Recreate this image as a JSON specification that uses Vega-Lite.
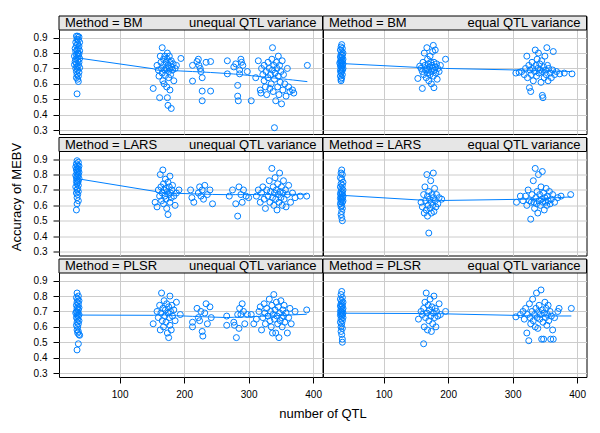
{
"$schema": "https://vega.github.io/schema/vega-lite/v6.json",
"autosize": {"type": "pad"},
"padding": {"left": 9, "top": 15, "right": 5, "bottom": 5},
"background": "white",
"spacing": 0.5,
"data": {"values": [
{"M":"BM","V":"unequal","q":33,"a":0.91},{"M":"BM","V":"unequal","q":35,"a":0.91},{"M":"BM","V":"unequal","q":37,"a":0.905},{"M":"BM","V":"unequal","q":34,"a":0.89},{"M":"BM","V":"unequal","q":36,"a":0.885},{"M":"BM","V":"unequal","q":32,"a":0.87},{"M":"BM","V":"unequal","q":38,"a":0.87},{"M":"BM","V":"unequal","q":35,"a":0.86},{"M":"BM","V":"unequal","q":33,"a":0.85},{"M":"BM","V":"unequal","q":37,"a":0.845},{"M":"BM","V":"unequal","q":31,"a":0.83},{"M":"BM","V":"unequal","q":36,"a":0.83},{"M":"BM","V":"unequal","q":34,"a":0.82},{"M":"BM","V":"unequal","q":38,"a":0.815},{"M":"BM","V":"unequal","q":32,"a":0.81},{"M":"BM","V":"unequal","q":35,"a":0.8},{"M":"BM","V":"unequal","q":37,"a":0.795},{"M":"BM","V":"unequal","q":33,"a":0.79},{"M":"BM","V":"unequal","q":30,"a":0.78},{"M":"BM","V":"unequal","q":36,"a":0.78},{"M":"BM","V":"unequal","q":34,"a":0.77},{"M":"BM","V":"unequal","q":38,"a":0.765},{"M":"BM","V":"unequal","q":32,"a":0.76},{"M":"BM","V":"unequal","q":35,"a":0.75},{"M":"BM","V":"unequal","q":31,"a":0.745},{"M":"BM","V":"unequal","q":37,"a":0.74},{"M":"BM","V":"unequal","q":33,"a":0.73},{"M":"BM","V":"unequal","q":30,"a":0.725},{"M":"BM","V":"unequal","q":36,"a":0.72},{"M":"BM","V":"unequal","q":34,"a":0.71},{"M":"BM","V":"unequal","q":38,"a":0.705},{"M":"BM","V":"unequal","q":32,"a":0.7},{"M":"BM","V":"unequal","q":35,"a":0.69},{"M":"BM","V":"unequal","q":33,"a":0.68},{"M":"BM","V":"unequal","q":37,"a":0.675},{"M":"BM","V":"unequal","q":34,"a":0.66},{"M":"BM","V":"unequal","q":36,"a":0.65},{"M":"BM","V":"unequal","q":33,"a":0.64},{"M":"BM","V":"unequal","q":35,"a":0.63},{"M":"BM","V":"unequal","q":36,"a":0.615},{"M":"BM","V":"unequal","q":34,"a":0.535},
{"M":"BM","V":"unequal","q":152,"a":0.57},{"M":"BM","V":"unequal","q":158,"a":0.72},{"M":"BM","V":"unequal","q":160,"a":0.69},{"M":"BM","V":"unequal","q":161,"a":0.65},{"M":"BM","V":"unequal","q":162,"a":0.51},{"M":"BM","V":"unequal","q":163,"a":0.78},{"M":"BM","V":"unequal","q":164,"a":0.74},{"M":"BM","V":"unequal","q":165,"a":0.7},{"M":"BM","V":"unequal","q":166,"a":0.835},{"M":"BM","V":"unequal","q":166,"a":0.67},{"M":"BM","V":"unequal","q":167,"a":0.62},{"M":"BM","V":"unequal","q":168,"a":0.76},{"M":"BM","V":"unequal","q":168,"a":0.72},{"M":"BM","V":"unequal","q":169,"a":0.6},{"M":"BM","V":"unequal","q":170,"a":0.78},{"M":"BM","V":"unequal","q":170,"a":0.69},{"M":"BM","V":"unequal","q":171,"a":0.655},{"M":"BM","V":"unequal","q":172,"a":0.74},{"M":"BM","V":"unequal","q":172,"a":0.7},{"M":"BM","V":"unequal","q":173,"a":0.58},{"M":"BM","V":"unequal","q":174,"a":0.8},{"M":"BM","V":"unequal","q":174,"a":0.76},{"M":"BM","V":"unequal","q":174,"a":0.51},{"M":"BM","V":"unequal","q":175,"a":0.46},{"M":"BM","V":"unequal","q":175,"a":0.72},{"M":"BM","V":"unequal","q":176,"a":0.68},{"M":"BM","V":"unequal","q":176,"a":0.64},{"M":"BM","V":"unequal","q":177,"a":0.78},{"M":"BM","V":"unequal","q":177,"a":0.7},{"M":"BM","V":"unequal","q":178,"a":0.74},{"M":"BM","V":"unequal","q":178,"a":0.56},{"M":"BM","V":"unequal","q":179,"a":0.66},{"M":"BM","V":"unequal","q":180,"a":0.44},{"M":"BM","V":"unequal","q":180,"a":0.75},{"M":"BM","V":"unequal","q":181,"a":0.71},{"M":"BM","V":"unequal","q":182,"a":0.69},{"M":"BM","V":"unequal","q":183,"a":0.73},{"M":"BM","V":"unequal","q":184,"a":0.62},{"M":"BM","V":"unequal","q":186,"a":0.7},{"M":"BM","V":"unequal","q":188,"a":0.72},{"M":"BM","V":"unequal","q":195,"a":0.765},
{"M":"BM","V":"unequal","q":213,"a":0.72},{"M":"BM","V":"unequal","q":213,"a":0.618},{"M":"BM","V":"unequal","q":220,"a":0.745},{"M":"BM","V":"unequal","q":222,"a":0.76},{"M":"BM","V":"unequal","q":223,"a":0.72},{"M":"BM","V":"unequal","q":225,"a":0.7},{"M":"BM","V":"unequal","q":226,"a":0.68},{"M":"BM","V":"unequal","q":228,"a":0.64},{"M":"BM","V":"unequal","q":228,"a":0.553},{"M":"BM","V":"unequal","q":228,"a":0.49},{"M":"BM","V":"unequal","q":234,"a":0.74},{"M":"BM","V":"unequal","q":241,"a":0.745},{"M":"BM","V":"unequal","q":241,"a":0.553},
{"M":"BM","V":"unequal","q":267,"a":0.75},{"M":"BM","V":"unequal","q":267,"a":0.665},{"M":"BM","V":"unequal","q":277,"a":0.71},{"M":"BM","V":"unequal","q":280,"a":0.73},{"M":"BM","V":"unequal","q":283,"a":0.59},{"M":"BM","V":"unequal","q":283,"a":0.52},{"M":"BM","V":"unequal","q":284,"a":0.49},{"M":"BM","V":"unequal","q":286,"a":0.69},{"M":"BM","V":"unequal","q":286,"a":0.665},{"M":"BM","V":"unequal","q":288,"a":0.76},{"M":"BM","V":"unequal","q":289,"a":0.74},{"M":"BM","V":"unequal","q":291,"a":0.72},{"M":"BM","V":"unequal","q":298,"a":0.68},{"M":"BM","V":"unequal","q":304,"a":0.49},{"M":"BM","V":"unequal","q":311,"a":0.64},
{"M":"BM","V":"unequal","q":315,"a":0.75},{"M":"BM","V":"unequal","q":318,"a":0.56},{"M":"BM","V":"unequal","q":319,"a":0.54},{"M":"BM","V":"unequal","q":320,"a":0.7},{"M":"BM","V":"unequal","q":322,"a":0.66},{"M":"BM","V":"unequal","q":324,"a":0.72},{"M":"BM","V":"unequal","q":324,"a":0.62},{"M":"BM","V":"unequal","q":326,"a":0.58},{"M":"BM","V":"unequal","q":327,"a":0.68},{"M":"BM","V":"unequal","q":328,"a":0.53},{"M":"BM","V":"unequal","q":330,"a":0.74},{"M":"BM","V":"unequal","q":330,"a":0.64},{"M":"BM","V":"unequal","q":332,"a":0.7},{"M":"BM","V":"unequal","q":333,"a":0.57},{"M":"BM","V":"unequal","q":334,"a":0.66},{"M":"BM","V":"unequal","q":335,"a":0.6},{"M":"BM","V":"unequal","q":336,"a":0.76},{"M":"BM","V":"unequal","q":337,"a":0.835},{"M":"BM","V":"unequal","q":337,"a":0.69},{"M":"BM","V":"unequal","q":338,"a":0.55},{"M":"BM","V":"unequal","q":339,"a":0.72},{"M":"BM","V":"unequal","q":340,"a":0.315},{"M":"BM","V":"unequal","q":340,"a":0.63},{"M":"BM","V":"unequal","q":341,"a":0.67},{"M":"BM","V":"unequal","q":342,"a":0.49},{"M":"BM","V":"unequal","q":343,"a":0.74},{"M":"BM","V":"unequal","q":344,"a":0.7},{"M":"BM","V":"unequal","q":345,"a":0.58},{"M":"BM","V":"unequal","q":346,"a":0.78},{"M":"BM","V":"unequal","q":346,"a":0.65},{"M":"BM","V":"unequal","q":347,"a":0.53},{"M":"BM","V":"unequal","q":348,"a":0.72},{"M":"BM","V":"unequal","q":349,"a":0.61},{"M":"BM","V":"unequal","q":350,"a":0.68},{"M":"BM","V":"unequal","q":351,"a":0.47},{"M":"BM","V":"unequal","q":352,"a":0.75},{"M":"BM","V":"unequal","q":353,"a":0.56},{"M":"BM","V":"unequal","q":354,"a":0.66},{"M":"BM","V":"unequal","q":356,"a":0.6},{"M":"BM","V":"unequal","q":358,"a":0.52},{"M":"BM","V":"unequal","q":360,"a":0.7},{"M":"BM","V":"unequal","q":362,"a":0.58},{"M":"BM","V":"unequal","q":364,"a":0.55},{"M":"BM","V":"unequal","q":368,"a":0.56},{"M":"BM","V":"unequal","q":370,"a":0.54},{"M":"BM","V":"unequal","q":391,"a":0.72},
{"M":"BM","V":"equal","q":35,"a":0.855},{"M":"BM","V":"equal","q":34,"a":0.84},{"M":"BM","V":"equal","q":36,"a":0.83},{"M":"BM","V":"equal","q":33,"a":0.82},{"M":"BM","V":"equal","q":35,"a":0.81},{"M":"BM","V":"equal","q":37,"a":0.8},{"M":"BM","V":"equal","q":34,"a":0.79},{"M":"BM","V":"equal","q":36,"a":0.785},{"M":"BM","V":"equal","q":33,"a":0.775},{"M":"BM","V":"equal","q":35,"a":0.77},{"M":"BM","V":"equal","q":37,"a":0.76},{"M":"BM","V":"equal","q":34,"a":0.755},{"M":"BM","V":"equal","q":36,"a":0.75},{"M":"BM","V":"equal","q":33,"a":0.745},{"M":"BM","V":"equal","q":35,"a":0.74},{"M":"BM","V":"equal","q":32,"a":0.735},{"M":"BM","V":"equal","q":37,"a":0.73},{"M":"BM","V":"equal","q":34,"a":0.725},{"M":"BM","V":"equal","q":36,"a":0.72},{"M":"BM","V":"equal","q":33,"a":0.715},{"M":"BM","V":"equal","q":35,"a":0.71},{"M":"BM","V":"equal","q":37,"a":0.7},{"M":"BM","V":"equal","q":34,"a":0.695},{"M":"BM","V":"equal","q":36,"a":0.69},{"M":"BM","V":"equal","q":33,"a":0.685},{"M":"BM","V":"equal","q":35,"a":0.68},{"M":"BM","V":"equal","q":34,"a":0.67},{"M":"BM","V":"equal","q":36,"a":0.66},{"M":"BM","V":"equal","q":33,"a":0.65},{"M":"BM","V":"equal","q":35,"a":0.64},{"M":"BM","V":"equal","q":34,"a":0.63},{"M":"BM","V":"equal","q":34,"a":0.62},
{"M":"BM","V":"equal","q":153,"a":0.635},{"M":"BM","V":"equal","q":156,"a":0.715},{"M":"BM","V":"equal","q":158,"a":0.7},{"M":"BM","V":"equal","q":160,"a":0.57},{"M":"BM","V":"equal","q":160,"a":0.68},{"M":"BM","V":"equal","q":161,"a":0.74},{"M":"BM","V":"equal","q":162,"a":0.66},{"M":"BM","V":"equal","q":163,"a":0.8},{"M":"BM","V":"equal","q":164,"a":0.72},{"M":"BM","V":"equal","q":165,"a":0.69},{"M":"BM","V":"equal","q":166,"a":0.64},{"M":"BM","V":"equal","q":167,"a":0.835},{"M":"BM","V":"equal","q":167,"a":0.7},{"M":"BM","V":"equal","q":168,"a":0.76},{"M":"BM","V":"equal","q":168,"a":0.67},{"M":"BM","V":"equal","q":169,"a":0.73},{"M":"BM","V":"equal","q":170,"a":0.62},{"M":"BM","V":"equal","q":170,"a":0.69},{"M":"BM","V":"equal","q":171,"a":0.71},{"M":"BM","V":"equal","q":172,"a":0.78},{"M":"BM","V":"equal","q":172,"a":0.66},{"M":"BM","V":"equal","q":173,"a":0.74},{"M":"BM","V":"equal","q":174,"a":0.68},{"M":"BM","V":"equal","q":174,"a":0.6},{"M":"BM","V":"equal","q":175,"a":0.72},{"M":"BM","V":"equal","q":176,"a":0.81},{"M":"BM","V":"equal","q":176,"a":0.7},{"M":"BM","V":"equal","q":177,"a":0.85},{"M":"BM","V":"equal","q":177,"a":0.65},{"M":"BM","V":"equal","q":178,"a":0.575},{"M":"BM","V":"equal","q":178,"a":0.74},{"M":"BM","V":"equal","q":179,"a":0.69},{"M":"BM","V":"equal","q":180,"a":0.82},{"M":"BM","V":"equal","q":180,"a":0.71},{"M":"BM","V":"equal","q":181,"a":0.67},{"M":"BM","V":"equal","q":182,"a":0.73},{"M":"BM","V":"equal","q":183,"a":0.63},{"M":"BM","V":"equal","q":184,"a":0.7},{"M":"BM","V":"equal","q":186,"a":0.68},{"M":"BM","V":"equal","q":188,"a":0.72},{"M":"BM","V":"equal","q":196,"a":0.76},
{"M":"BM","V":"equal","q":305,"a":0.67},{"M":"BM","V":"equal","q":310,"a":0.675},{"M":"BM","V":"equal","q":314,"a":0.68},{"M":"BM","V":"equal","q":318,"a":0.66},{"M":"BM","V":"equal","q":320,"a":0.7},{"M":"BM","V":"equal","q":322,"a":0.78},{"M":"BM","V":"equal","q":323,"a":0.64},{"M":"BM","V":"equal","q":325,"a":0.72},{"M":"BM","V":"equal","q":326,"a":0.575},{"M":"BM","V":"equal","q":327,"a":0.69},{"M":"BM","V":"equal","q":328,"a":0.55},{"M":"BM","V":"equal","q":329,"a":0.66},{"M":"BM","V":"equal","q":330,"a":0.74},{"M":"BM","V":"equal","q":331,"a":0.7},{"M":"BM","V":"equal","q":332,"a":0.62},{"M":"BM","V":"equal","q":334,"a":0.68},{"M":"BM","V":"equal","q":335,"a":0.82},{"M":"BM","V":"equal","q":336,"a":0.72},{"M":"BM","V":"equal","q":337,"a":0.65},{"M":"BM","V":"equal","q":338,"a":0.76},{"M":"BM","V":"equal","q":339,"a":0.7},{"M":"BM","V":"equal","q":340,"a":0.8},{"M":"BM","V":"equal","q":341,"a":0.67},{"M":"BM","V":"equal","q":342,"a":0.73},{"M":"BM","V":"equal","q":343,"a":0.69},{"M":"BM","V":"equal","q":344,"a":0.61},{"M":"BM","V":"equal","q":345,"a":0.75},{"M":"BM","V":"equal","q":346,"a":0.525},{"M":"BM","V":"equal","q":346,"a":0.68},{"M":"BM","V":"equal","q":347,"a":0.51},{"M":"BM","V":"equal","q":348,"a":0.71},{"M":"BM","V":"equal","q":349,"a":0.64},{"M":"BM","V":"equal","q":350,"a":0.78},{"M":"BM","V":"equal","q":351,"a":0.69},{"M":"BM","V":"equal","q":352,"a":0.66},{"M":"BM","V":"equal","q":353,"a":0.835},{"M":"BM","V":"equal","q":354,"a":0.72},{"M":"BM","V":"equal","q":355,"a":0.62},{"M":"BM","V":"equal","q":356,"a":0.7},{"M":"BM","V":"equal","q":358,"a":0.67},{"M":"BM","V":"equal","q":360,"a":0.64},{"M":"BM","V":"equal","q":362,"a":0.69},{"M":"BM","V":"equal","q":363,"a":0.81},{"M":"BM","V":"equal","q":365,"a":0.66},{"M":"BM","V":"equal","q":368,"a":0.68},{"M":"BM","V":"equal","q":373,"a":0.665},{"M":"BM","V":"equal","q":380,"a":0.67},{"M":"BM","V":"equal","q":392,"a":0.665},
{"M":"LARS","V":"unequal","q":34,"a":0.89},{"M":"LARS","V":"unequal","q":36,"a":0.88},{"M":"LARS","V":"unequal","q":33,"a":0.87},{"M":"LARS","V":"unequal","q":35,"a":0.86},{"M":"LARS","V":"unequal","q":37,"a":0.855},{"M":"LARS","V":"unequal","q":32,"a":0.85},{"M":"LARS","V":"unequal","q":34,"a":0.84},{"M":"LARS","V":"unequal","q":36,"a":0.835},{"M":"LARS","V":"unequal","q":33,"a":0.83},{"M":"LARS","V":"unequal","q":35,"a":0.82},{"M":"LARS","V":"unequal","q":37,"a":0.815},{"M":"LARS","V":"unequal","q":34,"a":0.81},{"M":"LARS","V":"unequal","q":36,"a":0.8},{"M":"LARS","V":"unequal","q":32,"a":0.795},{"M":"LARS","V":"unequal","q":35,"a":0.79},{"M":"LARS","V":"unequal","q":33,"a":0.78},{"M":"LARS","V":"unequal","q":37,"a":0.775},{"M":"LARS","V":"unequal","q":34,"a":0.77},{"M":"LARS","V":"unequal","q":36,"a":0.76},{"M":"LARS","V":"unequal","q":33,"a":0.755},{"M":"LARS","V":"unequal","q":35,"a":0.75},{"M":"LARS","V":"unequal","q":34,"a":0.74},{"M":"LARS","V":"unequal","q":36,"a":0.73},{"M":"LARS","V":"unequal","q":32,"a":0.72},{"M":"LARS","V":"unequal","q":35,"a":0.71},{"M":"LARS","V":"unequal","q":34,"a":0.7},{"M":"LARS","V":"unequal","q":36,"a":0.69},{"M":"LARS","V":"unequal","q":33,"a":0.68},{"M":"LARS","V":"unequal","q":35,"a":0.67},{"M":"LARS","V":"unequal","q":34,"a":0.65},{"M":"LARS","V":"unequal","q":36,"a":0.63},{"M":"LARS","V":"unequal","q":34,"a":0.61},{"M":"LARS","V":"unequal","q":33,"a":0.57},
{"M":"LARS","V":"unequal","q":155,"a":0.62},{"M":"LARS","V":"unequal","q":158,"a":0.59},{"M":"LARS","V":"unequal","q":160,"a":0.7},{"M":"LARS","V":"unequal","q":162,"a":0.66},{"M":"LARS","V":"unequal","q":163,"a":0.8},{"M":"LARS","V":"unequal","q":164,"a":0.72},{"M":"LARS","V":"unequal","q":165,"a":0.63},{"M":"LARS","V":"unequal","q":166,"a":0.68},{"M":"LARS","V":"unequal","q":167,"a":0.83},{"M":"LARS","V":"unequal","q":168,"a":0.74},{"M":"LARS","V":"unequal","q":168,"a":0.61},{"M":"LARS","V":"unequal","q":169,"a":0.7},{"M":"LARS","V":"unequal","q":170,"a":0.66},{"M":"LARS","V":"unequal","q":171,"a":0.77},{"M":"LARS","V":"unequal","q":172,"a":0.64},{"M":"LARS","V":"unequal","q":172,"a":0.71},{"M":"LARS","V":"unequal","q":173,"a":0.58},{"M":"LARS","V":"unequal","q":174,"a":0.69},{"M":"LARS","V":"unequal","q":175,"a":0.75},{"M":"LARS","V":"unequal","q":175,"a":0.54},{"M":"LARS","V":"unequal","q":176,"a":0.67},{"M":"LARS","V":"unequal","q":177,"a":0.72},{"M":"LARS","V":"unequal","q":178,"a":0.62},{"M":"LARS","V":"unequal","q":178,"a":0.79},{"M":"LARS","V":"unequal","q":179,"a":0.68},{"M":"LARS","V":"unequal","q":180,"a":0.65},{"M":"LARS","V":"unequal","q":181,"a":0.7},{"M":"LARS","V":"unequal","q":182,"a":0.73},{"M":"LARS","V":"unequal","q":184,"a":0.66},{"M":"LARS","V":"unequal","q":186,"a":0.6},{"M":"LARS","V":"unequal","q":188,"a":0.68},{"M":"LARS","V":"unequal","q":192,"a":0.7},
{"M":"LARS","V":"unequal","q":210,"a":0.7},{"M":"LARS","V":"unequal","q":212,"a":0.65},{"M":"LARS","V":"unequal","q":215,"a":0.62},{"M":"LARS","V":"unequal","q":222,"a":0.68},{"M":"LARS","V":"unequal","q":224,"a":0.72},{"M":"LARS","V":"unequal","q":226,"a":0.66},{"M":"LARS","V":"unequal","q":228,"a":0.7},{"M":"LARS","V":"unequal","q":230,"a":0.64},{"M":"LARS","V":"unequal","q":232,"a":0.73},{"M":"LARS","V":"unequal","q":236,"a":0.67},{"M":"LARS","V":"unequal","q":240,"a":0.7},{"M":"LARS","V":"unequal","q":244,"a":0.61},
{"M":"LARS","V":"unequal","q":270,"a":0.66},{"M":"LARS","V":"unequal","q":275,"a":0.7},{"M":"LARS","V":"unequal","q":280,"a":0.61},{"M":"LARS","V":"unequal","q":283,"a":0.53},{"M":"LARS","V":"unequal","q":285,"a":0.72},{"M":"LARS","V":"unequal","q":288,"a":0.67},{"M":"LARS","V":"unequal","q":290,"a":0.62},{"M":"LARS","V":"unequal","q":292,"a":0.7},{"M":"LARS","V":"unequal","q":296,"a":0.66},{"M":"LARS","V":"unequal","q":300,"a":0.65},
{"M":"LARS","V":"unequal","q":312,"a":0.66},{"M":"LARS","V":"unequal","q":315,"a":0.7},{"M":"LARS","V":"unequal","q":318,"a":0.62},{"M":"LARS","V":"unequal","q":320,"a":0.68},{"M":"LARS","V":"unequal","q":322,"a":0.72},{"M":"LARS","V":"unequal","q":324,"a":0.64},{"M":"LARS","V":"unequal","q":326,"a":0.58},{"M":"LARS","V":"unequal","q":328,"a":0.7},{"M":"LARS","V":"unequal","q":330,"a":0.66},{"M":"LARS","V":"unequal","q":332,"a":0.76},{"M":"LARS","V":"unequal","q":333,"a":0.62},{"M":"LARS","V":"unequal","q":334,"a":0.69},{"M":"LARS","V":"unequal","q":336,"a":0.84},{"M":"LARS","V":"unequal","q":337,"a":0.65},{"M":"LARS","V":"unequal","q":338,"a":0.72},{"M":"LARS","V":"unequal","q":339,"a":0.6},{"M":"LARS","V":"unequal","q":340,"a":0.68},{"M":"LARS","V":"unequal","q":341,"a":0.78},{"M":"LARS","V":"unequal","q":342,"a":0.64},{"M":"LARS","V":"unequal","q":343,"a":0.7},{"M":"LARS","V":"unequal","q":344,"a":0.57},{"M":"LARS","V":"unequal","q":345,"a":0.74},{"M":"LARS","V":"unequal","q":346,"a":0.67},{"M":"LARS","V":"unequal","q":347,"a":0.62},{"M":"LARS","V":"unequal","q":348,"a":0.81},{"M":"LARS","V":"unequal","q":349,"a":0.69},{"M":"LARS","V":"unequal","q":350,"a":0.65},{"M":"LARS","V":"unequal","q":351,"a":0.72},{"M":"LARS","V":"unequal","q":352,"a":0.6},{"M":"LARS","V":"unequal","q":353,"a":0.68},{"M":"LARS","V":"unequal","q":354,"a":0.76},{"M":"LARS","V":"unequal","q":355,"a":0.64},{"M":"LARS","V":"unequal","q":357,"a":0.7},{"M":"LARS","V":"unequal","q":358,"a":0.59},{"M":"LARS","V":"unequal","q":360,"a":0.67},{"M":"LARS","V":"unequal","q":362,"a":0.73},{"M":"LARS","V":"unequal","q":365,"a":0.62},{"M":"LARS","V":"unequal","q":368,"a":0.68},{"M":"LARS","V":"unequal","q":372,"a":0.65},{"M":"LARS","V":"unequal","q":380,"a":0.66},{"M":"LARS","V":"unequal","q":390,"a":0.66},
{"M":"LARS","V":"equal","q":35,"a":0.83},{"M":"LARS","V":"equal","q":34,"a":0.81},{"M":"LARS","V":"equal","q":36,"a":0.8},{"M":"LARS","V":"equal","q":33,"a":0.78},{"M":"LARS","V":"equal","q":35,"a":0.77},{"M":"LARS","V":"equal","q":37,"a":0.75},{"M":"LARS","V":"equal","q":34,"a":0.74},{"M":"LARS","V":"equal","q":36,"a":0.73},{"M":"LARS","V":"equal","q":33,"a":0.72},{"M":"LARS","V":"equal","q":35,"a":0.71},{"M":"LARS","V":"equal","q":37,"a":0.7},{"M":"LARS","V":"equal","q":34,"a":0.69},{"M":"LARS","V":"equal","q":36,"a":0.68},{"M":"LARS","V":"equal","q":33,"a":0.675},{"M":"LARS","V":"equal","q":35,"a":0.67},{"M":"LARS","V":"equal","q":37,"a":0.66},{"M":"LARS","V":"equal","q":34,"a":0.655},{"M":"LARS","V":"equal","q":36,"a":0.65},{"M":"LARS","V":"equal","q":33,"a":0.645},{"M":"LARS","V":"equal","q":35,"a":0.64},{"M":"LARS","V":"equal","q":37,"a":0.63},{"M":"LARS","V":"equal","q":34,"a":0.625},{"M":"LARS","V":"equal","q":36,"a":0.62},{"M":"LARS","V":"equal","q":33,"a":0.61},{"M":"LARS","V":"equal","q":35,"a":0.6},{"M":"LARS","V":"equal","q":34,"a":0.59},{"M":"LARS","V":"equal","q":36,"a":0.58},{"M":"LARS","V":"equal","q":35,"a":0.56},{"M":"LARS","V":"equal","q":34,"a":0.54},{"M":"LARS","V":"equal","q":35,"a":0.52},{"M":"LARS","V":"equal","q":36,"a":0.5},
{"M":"LARS","V":"equal","q":158,"a":0.62},{"M":"LARS","V":"equal","q":160,"a":0.59},{"M":"LARS","V":"equal","q":162,"a":0.67},{"M":"LARS","V":"equal","q":163,"a":0.55},{"M":"LARS","V":"equal","q":164,"a":0.72},{"M":"LARS","V":"equal","q":165,"a":0.63},{"M":"LARS","V":"equal","q":166,"a":0.57},{"M":"LARS","V":"equal","q":167,"a":0.8},{"M":"LARS","V":"equal","q":168,"a":0.66},{"M":"LARS","V":"equal","q":168,"a":0.53},{"M":"LARS","V":"equal","q":169,"a":0.6},{"M":"LARS","V":"equal","q":170,"a":0.69},{"M":"LARS","V":"equal","q":170,"a":0.42},{"M":"LARS","V":"equal","q":171,"a":0.64},{"M":"LARS","V":"equal","q":172,"a":0.58},{"M":"LARS","V":"equal","q":173,"a":0.76},{"M":"LARS","V":"equal","q":174,"a":0.62},{"M":"LARS","V":"equal","q":174,"a":0.55},{"M":"LARS","V":"equal","q":175,"a":0.67},{"M":"LARS","V":"equal","q":176,"a":0.6},{"M":"LARS","V":"equal","q":177,"a":0.81},{"M":"LARS","V":"equal","q":177,"a":0.65},{"M":"LARS","V":"equal","q":178,"a":0.56},{"M":"LARS","V":"equal","q":179,"a":0.71},{"M":"LARS","V":"equal","q":180,"a":0.63},{"M":"LARS","V":"equal","q":181,"a":0.59},{"M":"LARS","V":"equal","q":182,"a":0.67},{"M":"LARS","V":"equal","q":184,"a":0.61},{"M":"LARS","V":"equal","q":186,"a":0.65},{"M":"LARS","V":"equal","q":190,"a":0.64},
{"M":"LARS","V":"equal","q":306,"a":0.62},{"M":"LARS","V":"equal","q":312,"a":0.66},{"M":"LARS","V":"equal","q":316,"a":0.63},{"M":"LARS","V":"equal","q":320,"a":0.66},{"M":"LARS","V":"equal","q":322,"a":0.6},{"M":"LARS","V":"equal","q":324,"a":0.7},{"M":"LARS","V":"equal","q":326,"a":0.63},{"M":"LARS","V":"equal","q":328,"a":0.51},{"M":"LARS","V":"equal","q":329,"a":0.62},{"M":"LARS","V":"equal","q":330,"a":0.67},{"M":"LARS","V":"equal","q":332,"a":0.76},{"M":"LARS","V":"equal","q":333,"a":0.62},{"M":"LARS","V":"equal","q":334,"a":0.58},{"M":"LARS","V":"equal","q":335,"a":0.84},{"M":"LARS","V":"equal","q":336,"a":0.65},{"M":"LARS","V":"equal","q":337,"a":0.61},{"M":"LARS","V":"equal","q":338,"a":0.69},{"M":"LARS","V":"equal","q":339,"a":0.55},{"M":"LARS","V":"equal","q":340,"a":0.8},{"M":"LARS","V":"equal","q":341,"a":0.63},{"M":"LARS","V":"equal","q":342,"a":0.67},{"M":"LARS","V":"equal","q":343,"a":0.6},{"M":"LARS","V":"equal","q":344,"a":0.72},{"M":"LARS","V":"equal","q":345,"a":0.64},{"M":"LARS","V":"equal","q":346,"a":0.82},{"M":"LARS","V":"equal","q":347,"a":0.62},{"M":"LARS","V":"equal","q":348,"a":0.68},{"M":"LARS","V":"equal","q":349,"a":0.57},{"M":"LARS","V":"equal","q":350,"a":0.65},{"M":"LARS","V":"equal","q":351,"a":0.62},{"M":"LARS","V":"equal","q":352,"a":0.71},{"M":"LARS","V":"equal","q":353,"a":0.6},{"M":"LARS","V":"equal","q":354,"a":0.66},{"M":"LARS","V":"equal","q":355,"a":0.63},{"M":"LARS","V":"equal","q":357,"a":0.69},{"M":"LARS","V":"equal","q":358,"a":0.61},{"M":"LARS","V":"equal","q":360,"a":0.64},{"M":"LARS","V":"equal","q":362,"a":0.67},{"M":"LARS","V":"equal","q":365,"a":0.62},{"M":"LARS","V":"equal","q":370,"a":0.65},{"M":"LARS","V":"equal","q":375,"a":0.66},{"M":"LARS","V":"equal","q":390,"a":0.67},
{"M":"PLSR","V":"unequal","q":34,"a":0.82},{"M":"PLSR","V":"unequal","q":36,"a":0.8},{"M":"PLSR","V":"unequal","q":33,"a":0.79},{"M":"PLSR","V":"unequal","q":35,"a":0.78},{"M":"PLSR","V":"unequal","q":37,"a":0.77},{"M":"PLSR","V":"unequal","q":34,"a":0.76},{"M":"PLSR","V":"unequal","q":36,"a":0.75},{"M":"PLSR","V":"unequal","q":33,"a":0.74},{"M":"PLSR","V":"unequal","q":35,"a":0.73},{"M":"PLSR","V":"unequal","q":37,"a":0.725},{"M":"PLSR","V":"unequal","q":34,"a":0.72},{"M":"PLSR","V":"unequal","q":36,"a":0.71},{"M":"PLSR","V":"unequal","q":33,"a":0.7},{"M":"PLSR","V":"unequal","q":35,"a":0.695},{"M":"PLSR","V":"unequal","q":32,"a":0.69},{"M":"PLSR","V":"unequal","q":37,"a":0.68},{"M":"PLSR","V":"unequal","q":34,"a":0.675},{"M":"PLSR","V":"unequal","q":36,"a":0.67},{"M":"PLSR","V":"unequal","q":33,"a":0.66},{"M":"PLSR","V":"unequal","q":35,"a":0.65},{"M":"PLSR","V":"unequal","q":37,"a":0.64},{"M":"PLSR","V":"unequal","q":34,"a":0.63},{"M":"PLSR","V":"unequal","q":36,"a":0.62},{"M":"PLSR","V":"unequal","q":33,"a":0.61},{"M":"PLSR","V":"unequal","q":35,"a":0.6},{"M":"PLSR","V":"unequal","q":34,"a":0.58},{"M":"PLSR","V":"unequal","q":36,"a":0.57},{"M":"PLSR","V":"unequal","q":35,"a":0.56},{"M":"PLSR","V":"unequal","q":37,"a":0.55},{"M":"PLSR","V":"unequal","q":38,"a":0.545},{"M":"PLSR","V":"unequal","q":36,"a":0.49},{"M":"PLSR","V":"unequal","q":34,"a":0.45},
{"M":"PLSR","V":"unequal","q":152,"a":0.62},{"M":"PLSR","V":"unequal","q":158,"a":0.7},{"M":"PLSR","V":"unequal","q":160,"a":0.66},{"M":"PLSR","V":"unequal","q":162,"a":0.74},{"M":"PLSR","V":"unequal","q":163,"a":0.58},{"M":"PLSR","V":"unequal","q":164,"a":0.69},{"M":"PLSR","V":"unequal","q":165,"a":0.82},{"M":"PLSR","V":"unequal","q":166,"a":0.64},{"M":"PLSR","V":"unequal","q":167,"a":0.72},{"M":"PLSR","V":"unequal","q":168,"a":0.6},{"M":"PLSR","V":"unequal","q":169,"a":0.77},{"M":"PLSR","V":"unequal","q":170,"a":0.67},{"M":"PLSR","V":"unequal","q":171,"a":0.71},{"M":"PLSR","V":"unequal","q":172,"a":0.63},{"M":"PLSR","V":"unequal","q":173,"a":0.75},{"M":"PLSR","V":"unequal","q":174,"a":0.56},{"M":"PLSR","V":"unequal","q":175,"a":0.69},{"M":"PLSR","V":"unequal","q":176,"a":0.53},{"M":"PLSR","V":"unequal","q":176,"a":0.73},{"M":"PLSR","V":"unequal","q":177,"a":0.66},{"M":"PLSR","V":"unequal","q":178,"a":0.8},{"M":"PLSR","V":"unequal","q":178,"a":0.61},{"M":"PLSR","V":"unequal","q":179,"a":0.7},{"M":"PLSR","V":"unequal","q":180,"a":0.58},{"M":"PLSR","V":"unequal","q":181,"a":0.74},{"M":"PLSR","V":"unequal","q":182,"a":0.67},{"M":"PLSR","V":"unequal","q":184,"a":0.71},{"M":"PLSR","V":"unequal","q":186,"a":0.64},{"M":"PLSR","V":"unequal","q":188,"a":0.76},{"M":"PLSR","V":"unequal","q":194,"a":0.68},
{"M":"PLSR","V":"unequal","q":213,"a":0.63},{"M":"PLSR","V":"unequal","q":213,"a":0.6},{"M":"PLSR","V":"unequal","q":220,"a":0.72},{"M":"PLSR","V":"unequal","q":222,"a":0.66},{"M":"PLSR","V":"unequal","q":224,"a":0.64},{"M":"PLSR","V":"unequal","q":226,"a":0.7},{"M":"PLSR","V":"unequal","q":228,"a":0.57},{"M":"PLSR","V":"unequal","q":229,"a":0.54},{"M":"PLSR","V":"unequal","q":232,"a":0.69},{"M":"PLSR","V":"unequal","q":234,"a":0.75},{"M":"PLSR","V":"unequal","q":236,"a":0.62},{"M":"PLSR","V":"unequal","q":240,"a":0.73},{"M":"PLSR","V":"unequal","q":242,"a":0.66},
{"M":"PLSR","V":"unequal","q":266,"a":0.67},{"M":"PLSR","V":"unequal","q":266,"a":0.61},{"M":"PLSR","V":"unequal","q":277,"a":0.63},{"M":"PLSR","V":"unequal","q":278,"a":0.61},{"M":"PLSR","V":"unequal","q":281,"a":0.53},{"M":"PLSR","V":"unequal","q":283,"a":0.68},{"M":"PLSR","V":"unequal","q":285,"a":0.59},{"M":"PLSR","V":"unequal","q":286,"a":0.72},{"M":"PLSR","V":"unequal","q":288,"a":0.68},{"M":"PLSR","V":"unequal","q":290,"a":0.75},{"M":"PLSR","V":"unequal","q":292,"a":0.7},{"M":"PLSR","V":"unequal","q":294,"a":0.62},{"M":"PLSR","V":"unequal","q":298,"a":0.68},
{"M":"PLSR","V":"unequal","q":304,"a":0.68},{"M":"PLSR","V":"unequal","q":308,"a":0.62},{"M":"PLSR","V":"unequal","q":312,"a":0.65},{"M":"PLSR","V":"unequal","q":316,"a":0.7},{"M":"PLSR","V":"unequal","q":318,"a":0.73},{"M":"PLSR","V":"unequal","q":320,"a":0.58},{"M":"PLSR","V":"unequal","q":322,"a":0.66},{"M":"PLSR","V":"unequal","q":324,"a":0.75},{"M":"PLSR","V":"unequal","q":325,"a":0.69},{"M":"PLSR","V":"unequal","q":326,"a":0.62},{"M":"PLSR","V":"unequal","q":328,"a":0.72},{"M":"PLSR","V":"unequal","q":330,"a":0.67},{"M":"PLSR","V":"unequal","q":332,"a":0.78},{"M":"PLSR","V":"unequal","q":333,"a":0.64},{"M":"PLSR","V":"unequal","q":334,"a":0.7},{"M":"PLSR","V":"unequal","q":335,"a":0.6},{"M":"PLSR","V":"unequal","q":336,"a":0.74},{"M":"PLSR","V":"unequal","q":337,"a":0.56},{"M":"PLSR","V":"unequal","q":338,"a":0.68},{"M":"PLSR","V":"unequal","q":339,"a":0.81},{"M":"PLSR","V":"unequal","q":340,"a":0.65},{"M":"PLSR","V":"unequal","q":341,"a":0.71},{"M":"PLSR","V":"unequal","q":342,"a":0.56},{"M":"PLSR","V":"unequal","q":343,"a":0.76},{"M":"PLSR","V":"unequal","q":344,"a":0.67},{"M":"PLSR","V":"unequal","q":345,"a":0.62},{"M":"PLSR","V":"unequal","q":346,"a":0.73},{"M":"PLSR","V":"unequal","q":347,"a":0.53},{"M":"PLSR","V":"unequal","q":348,"a":0.69},{"M":"PLSR","V":"unequal","q":349,"a":0.64},{"M":"PLSR","V":"unequal","q":350,"a":0.77},{"M":"PLSR","V":"unequal","q":351,"a":0.66},{"M":"PLSR","V":"unequal","q":352,"a":0.6},{"M":"PLSR","V":"unequal","q":353,"a":0.71},{"M":"PLSR","V":"unequal","q":354,"a":0.67},{"M":"PLSR","V":"unequal","q":355,"a":0.74},{"M":"PLSR","V":"unequal","q":356,"a":0.63},{"M":"PLSR","V":"unequal","q":358,"a":0.69},{"M":"PLSR","V":"unequal","q":360,"a":0.56},{"M":"PLSR","V":"unequal","q":362,"a":0.66},{"M":"PLSR","V":"unequal","q":364,"a":0.72},{"M":"PLSR","V":"unequal","q":366,"a":0.62},{"M":"PLSR","V":"unequal","q":372,"a":0.7},{"M":"PLSR","V":"unequal","q":390,"a":0.71},
{"M":"PLSR","V":"equal","q":35,"a":0.83},{"M":"PLSR","V":"equal","q":34,"a":0.81},{"M":"PLSR","V":"equal","q":36,"a":0.79},{"M":"PLSR","V":"equal","q":33,"a":0.78},{"M":"PLSR","V":"equal","q":35,"a":0.77},{"M":"PLSR","V":"equal","q":37,"a":0.76},{"M":"PLSR","V":"equal","q":34,"a":0.75},{"M":"PLSR","V":"equal","q":36,"a":0.74},{"M":"PLSR","V":"equal","q":33,"a":0.735},{"M":"PLSR","V":"equal","q":35,"a":0.73},{"M":"PLSR","V":"equal","q":37,"a":0.72},{"M":"PLSR","V":"equal","q":34,"a":0.715},{"M":"PLSR","V":"equal","q":36,"a":0.71},{"M":"PLSR","V":"equal","q":33,"a":0.7},{"M":"PLSR","V":"equal","q":35,"a":0.695},{"M":"PLSR","V":"equal","q":37,"a":0.69},{"M":"PLSR","V":"equal","q":34,"a":0.685},{"M":"PLSR","V":"equal","q":36,"a":0.68},{"M":"PLSR","V":"equal","q":33,"a":0.675},{"M":"PLSR","V":"equal","q":35,"a":0.67},{"M":"PLSR","V":"equal","q":37,"a":0.66},{"M":"PLSR","V":"equal","q":34,"a":0.65},{"M":"PLSR","V":"equal","q":36,"a":0.64},{"M":"PLSR","V":"equal","q":33,"a":0.63},{"M":"PLSR","V":"equal","q":35,"a":0.62},{"M":"PLSR","V":"equal","q":34,"a":0.6},{"M":"PLSR","V":"equal","q":36,"a":0.59},{"M":"PLSR","V":"equal","q":34,"a":0.57},{"M":"PLSR","V":"equal","q":35,"a":0.55},{"M":"PLSR","V":"equal","q":36,"a":0.52},{"M":"PLSR","V":"equal","q":36,"a":0.5},
{"M":"PLSR","V":"equal","q":154,"a":0.65},{"M":"PLSR","V":"equal","q":158,"a":0.7},{"M":"PLSR","V":"equal","q":160,"a":0.68},{"M":"PLSR","V":"equal","q":162,"a":0.49},{"M":"PLSR","V":"equal","q":162,"a":0.72},{"M":"PLSR","V":"equal","q":163,"a":0.6},{"M":"PLSR","V":"equal","q":164,"a":0.76},{"M":"PLSR","V":"equal","q":165,"a":0.66},{"M":"PLSR","V":"equal","q":166,"a":0.82},{"M":"PLSR","V":"equal","q":167,"a":0.69},{"M":"PLSR","V":"equal","q":168,"a":0.58},{"M":"PLSR","V":"equal","q":169,"a":0.74},{"M":"PLSR","V":"equal","q":170,"a":0.64},{"M":"PLSR","V":"equal","q":171,"a":0.71},{"M":"PLSR","V":"equal","q":172,"a":0.78},{"M":"PLSR","V":"equal","q":173,"a":0.67},{"M":"PLSR","V":"equal","q":174,"a":0.57},{"M":"PLSR","V":"equal","q":175,"a":0.73},{"M":"PLSR","V":"equal","q":176,"a":0.62},{"M":"PLSR","V":"equal","q":177,"a":0.69},{"M":"PLSR","V":"equal","q":178,"a":0.8},{"M":"PLSR","V":"equal","q":179,"a":0.66},{"M":"PLSR","V":"equal","q":180,"a":0.72},{"M":"PLSR","V":"equal","q":181,"a":0.6},{"M":"PLSR","V":"equal","q":182,"a":0.7},{"M":"PLSR","V":"equal","q":184,"a":0.67},{"M":"PLSR","V":"equal","q":186,"a":0.75},{"M":"PLSR","V":"equal","q":188,"a":0.68},{"M":"PLSR","V":"equal","q":196,"a":0.7},
{"M":"PLSR","V":"equal","q":305,"a":0.665},{"M":"PLSR","V":"equal","q":312,"a":0.68},{"M":"PLSR","V":"equal","q":316,"a":0.7},{"M":"PLSR","V":"equal","q":318,"a":0.65},{"M":"PLSR","V":"equal","q":320,"a":0.72},{"M":"PLSR","V":"equal","q":322,"a":0.56},{"M":"PLSR","V":"equal","q":323,"a":0.68},{"M":"PLSR","V":"equal","q":325,"a":0.51},{"M":"PLSR","V":"equal","q":326,"a":0.75},{"M":"PLSR","V":"equal","q":327,"a":0.66},{"M":"PLSR","V":"equal","q":328,"a":0.62},{"M":"PLSR","V":"equal","q":330,"a":0.7},{"M":"PLSR","V":"equal","q":331,"a":0.78},{"M":"PLSR","V":"equal","q":332,"a":0.64},{"M":"PLSR","V":"equal","q":334,"a":0.68},{"M":"PLSR","V":"equal","q":335,"a":0.6},{"M":"PLSR","V":"equal","q":336,"a":0.72},{"M":"PLSR","V":"equal","q":337,"a":0.82},{"M":"PLSR","V":"equal","q":338,"a":0.66},{"M":"PLSR","V":"equal","q":339,"a":0.59},{"M":"PLSR","V":"equal","q":340,"a":0.7},{"M":"PLSR","V":"equal","q":341,"a":0.74},{"M":"PLSR","V":"equal","q":342,"a":0.65},{"M":"PLSR","V":"equal","q":343,"a":0.68},{"M":"PLSR","V":"equal","q":344,"a":0.84},{"M":"PLSR","V":"equal","q":345,"a":0.52},{"M":"PLSR","V":"equal","q":346,"a":0.71},{"M":"PLSR","V":"equal","q":347,"a":0.63},{"M":"PLSR","V":"equal","q":348,"a":0.52},{"M":"PLSR","V":"equal","q":349,"a":0.69},{"M":"PLSR","V":"equal","q":350,"a":0.76},{"M":"PLSR","V":"equal","q":351,"a":0.66},{"M":"PLSR","V":"equal","q":352,"a":0.72},{"M":"PLSR","V":"equal","q":353,"a":0.61},{"M":"PLSR","V":"equal","q":354,"a":0.68},{"M":"PLSR","V":"equal","q":355,"a":0.74},{"M":"PLSR","V":"equal","q":356,"a":0.64},{"M":"PLSR","V":"equal","q":358,"a":0.7},{"M":"PLSR","V":"equal","q":359,"a":0.52},{"M":"PLSR","V":"equal","q":360,"a":0.67},{"M":"PLSR","V":"equal","q":362,"a":0.58},{"M":"PLSR","V":"equal","q":363,"a":0.52},{"M":"PLSR","V":"equal","q":365,"a":0.66},{"M":"PLSR","V":"equal","q":370,"a":0.7},{"M":"PLSR","V":"equal","q":372,"a":0.72},{"M":"PLSR","V":"equal","q":391,"a":0.72}
]},
"vconcat": [
 {"hconcat": [
  {"transform": [{"filter": "datum.M == 'BM' && datum.V == 'unequal'"}], "width": 263.5, "height": 118,
   "layer": [
    {"mark": "point", "encoding": {
      "x": {"field": "q", "type": "quantitative", "scale": {"domain": [6, 414.5], "nice": false, "zero": false}, "axis": {"values": [100, 200, 300, 400], "tickCount": 10, "title": null, "grid": true, "domain": false, "labels": false, "ticks": false}},
      "y": {"field": "a", "type": "quantitative", "scale": {"domain": [0.274, 1.041], "nice": false, "zero": false}, "axis": {"values": [0.3, 0.4, 0.5, 0.6, 0.7, 0.8, 0.9], "tickCount": 10, "format": ".1f", "title": null, "grid": true, "domain": false, "labelOverlap": false, "labelBound": false, "labelFlush": false}}}},
    {"transform": [{"loess": "a", "on": "q", "bandwidth": 0.67}], "mark": "line", "encoding": {"x": {"field": "q", "type": "quantitative"}, "y": {"field": "a", "type": "quantitative"}}},
    {"transform": [{"aggregate": [{"op": "count", "as": "n"}], "groupby": ["M", "V"]}, {"calculate": "'Method = ' + datum.M", "as": "lab"}, {"calculate": "datum.V + ' QTL variance'", "as": "lab2"}],
     "layer": [
      {"mark": "rect", "encoding": {"x": {"datum": 6, "type": "quantitative"}, "x2": {"datum": 414.5}, "y": {"datum": 0.95, "type": "quantitative"}, "y2": {"datum": 1.041}}},
      {"mark": {"type": "text", "align": "left", "dx": 6}, "encoding": {"x": {"datum": 6, "type": "quantitative"}, "y": {"datum": 0.9955, "type": "quantitative"}, "text": {"field": "lab"}}},
      {"mark": {"type": "text", "align": "right", "dx": -6}, "encoding": {"x": {"datum": 414.5, "type": "quantitative"}, "y": {"datum": 0.9955, "type": "quantitative"}, "text": {"field": "lab2"}}}]}]},
  {"transform": [{"filter": "datum.M == 'BM' && datum.V == 'equal'"}], "width": 263.5, "height": 118,
   "layer": [
    {"mark": "point", "encoding": {
      "x": {"field": "q", "type": "quantitative", "scale": {"domain": [6, 414.5], "nice": false, "zero": false}, "axis": {"values": [100, 200, 300, 400], "tickCount": 10, "title": null, "grid": true, "domain": false, "labels": false, "ticks": false}},
      "y": {"field": "a", "type": "quantitative", "scale": {"domain": [0.274, 1.041], "nice": false, "zero": false}, "axis": {"values": [0.3, 0.4, 0.5, 0.6, 0.7, 0.8, 0.9], "tickCount": 10, "title": null, "grid": true, "domain": false, "labels": false, "ticks": false}}}},
    {"transform": [{"loess": "a", "on": "q", "bandwidth": 0.67}], "mark": "line", "encoding": {"x": {"field": "q", "type": "quantitative"}, "y": {"field": "a", "type": "quantitative"}}},
    {"transform": [{"aggregate": [{"op": "count", "as": "n"}], "groupby": ["M", "V"]}, {"calculate": "'Method = ' + datum.M", "as": "lab"}, {"calculate": "datum.V + ' QTL variance'", "as": "lab2"}],
     "layer": [
      {"mark": "rect", "encoding": {"x": {"datum": 6, "type": "quantitative"}, "x2": {"datum": 414.5}, "y": {"datum": 0.95, "type": "quantitative"}, "y2": {"datum": 1.041}}},
      {"mark": {"type": "text", "align": "left", "dx": 6}, "encoding": {"x": {"datum": 6, "type": "quantitative"}, "y": {"datum": 0.9955, "type": "quantitative"}, "text": {"field": "lab"}}},
      {"mark": {"type": "text", "align": "right", "dx": -6}, "encoding": {"x": {"datum": 414.5, "type": "quantitative"}, "y": {"datum": 0.9955, "type": "quantitative"}, "text": {"field": "lab2"}}}]}]}
 ], "spacing": 0, "bounds": "flush"},
 {"hconcat": [
  {"transform": [{"filter": "datum.M == 'LARS' && datum.V == 'unequal'"}], "width": 263.5, "height": 118,
   "layer": [
    {"mark": "point", "encoding": {
      "x": {"field": "q", "type": "quantitative", "scale": {"domain": [6, 414.5], "nice": false, "zero": false}, "axis": {"values": [100, 200, 300, 400], "tickCount": 10, "title": null, "grid": true, "domain": false, "labels": false, "ticks": false}},
      "y": {"field": "a", "type": "quantitative", "scale": {"domain": [0.274, 1.041], "nice": false, "zero": false}, "axis": {"values": [0.3, 0.4, 0.5, 0.6, 0.7, 0.8, 0.9], "tickCount": 10, "format": ".1f", "title": "Accuracy of MEBV", "titleX": -36, "titleY": 59, "titleAngle": -90, "titleAlign": "center", "titleBaseline": "bottom", "grid": true, "domain": false, "labelOverlap": false, "labelBound": false, "labelFlush": false}}}},
    {"transform": [{"loess": "a", "on": "q", "bandwidth": 0.67}], "mark": "line", "encoding": {"x": {"field": "q", "type": "quantitative"}, "y": {"field": "a", "type": "quantitative"}}},
    {"transform": [{"aggregate": [{"op": "count", "as": "n"}], "groupby": ["M", "V"]}, {"calculate": "'Method = ' + datum.M", "as": "lab"}, {"calculate": "datum.V + ' QTL variance'", "as": "lab2"}],
     "layer": [
      {"mark": "rect", "encoding": {"x": {"datum": 6, "type": "quantitative"}, "x2": {"datum": 414.5}, "y": {"datum": 0.95, "type": "quantitative"}, "y2": {"datum": 1.041}}},
      {"mark": {"type": "text", "align": "left", "dx": 6}, "encoding": {"x": {"datum": 6, "type": "quantitative"}, "y": {"datum": 0.9955, "type": "quantitative"}, "text": {"field": "lab"}}},
      {"mark": {"type": "text", "align": "right", "dx": -6}, "encoding": {"x": {"datum": 414.5, "type": "quantitative"}, "y": {"datum": 0.9955, "type": "quantitative"}, "text": {"field": "lab2"}}}]}]},
  {"transform": [{"filter": "datum.M == 'LARS' && datum.V == 'equal'"}], "width": 263.5, "height": 118,
   "layer": [
    {"mark": "point", "encoding": {
      "x": {"field": "q", "type": "quantitative", "scale": {"domain": [6, 414.5], "nice": false, "zero": false}, "axis": {"values": [100, 200, 300, 400], "tickCount": 10, "title": null, "grid": true, "domain": false, "labels": false, "ticks": false}},
      "y": {"field": "a", "type": "quantitative", "scale": {"domain": [0.274, 1.041], "nice": false, "zero": false}, "axis": {"values": [0.3, 0.4, 0.5, 0.6, 0.7, 0.8, 0.9], "tickCount": 10, "title": null, "grid": true, "domain": false, "labels": false, "ticks": false}}}},
    {"transform": [{"loess": "a", "on": "q", "bandwidth": 0.67}], "mark": "line", "encoding": {"x": {"field": "q", "type": "quantitative"}, "y": {"field": "a", "type": "quantitative"}}},
    {"transform": [{"aggregate": [{"op": "count", "as": "n"}], "groupby": ["M", "V"]}, {"calculate": "'Method = ' + datum.M", "as": "lab"}, {"calculate": "datum.V + ' QTL variance'", "as": "lab2"}],
     "layer": [
      {"mark": "rect", "encoding": {"x": {"datum": 6, "type": "quantitative"}, "x2": {"datum": 414.5}, "y": {"datum": 0.95, "type": "quantitative"}, "y2": {"datum": 1.041}}},
      {"mark": {"type": "text", "align": "left", "dx": 6}, "encoding": {"x": {"datum": 6, "type": "quantitative"}, "y": {"datum": 0.9955, "type": "quantitative"}, "text": {"field": "lab"}}},
      {"mark": {"type": "text", "align": "right", "dx": -6}, "encoding": {"x": {"datum": 414.5, "type": "quantitative"}, "y": {"datum": 0.9955, "type": "quantitative"}, "text": {"field": "lab2"}}}]}]}
 ], "spacing": 0, "bounds": "flush"},
 {"hconcat": [
  {"transform": [{"filter": "datum.M == 'PLSR' && datum.V == 'unequal'"}], "width": 263.5, "height": 118,
   "layer": [
    {"mark": "point", "encoding": {
      "x": {"field": "q", "type": "quantitative", "scale": {"domain": [6, 414.5], "nice": false, "zero": false}, "axis": {"values": [100, 200, 300, 400], "tickCount": 10, "title": "number of QTL", "titleX": 263.5, "titleY": 30, "titleAlign": "center", "titleBaseline": "top", "grid": true, "domain": false, "labelOverlap": false, "labelBound": false, "labelFlush": false}},
      "y": {"field": "a", "type": "quantitative", "scale": {"domain": [0.274, 1.041], "nice": false, "zero": false}, "axis": {"values": [0.3, 0.4, 0.5, 0.6, 0.7, 0.8, 0.9], "tickCount": 10, "format": ".1f", "title": null, "grid": true, "domain": false, "labelOverlap": false, "labelBound": false, "labelFlush": false}}}},
    {"transform": [{"loess": "a", "on": "q", "bandwidth": 0.67}], "mark": "line", "encoding": {"x": {"field": "q", "type": "quantitative"}, "y": {"field": "a", "type": "quantitative"}}},
    {"transform": [{"aggregate": [{"op": "count", "as": "n"}], "groupby": ["M", "V"]}, {"calculate": "'Method = ' + datum.M", "as": "lab"}, {"calculate": "datum.V + ' QTL variance'", "as": "lab2"}],
     "layer": [
      {"mark": "rect", "encoding": {"x": {"datum": 6, "type": "quantitative"}, "x2": {"datum": 414.5}, "y": {"datum": 0.95, "type": "quantitative"}, "y2": {"datum": 1.041}}},
      {"mark": {"type": "text", "align": "left", "dx": 6}, "encoding": {"x": {"datum": 6, "type": "quantitative"}, "y": {"datum": 0.9955, "type": "quantitative"}, "text": {"field": "lab"}}},
      {"mark": {"type": "text", "align": "right", "dx": -6}, "encoding": {"x": {"datum": 414.5, "type": "quantitative"}, "y": {"datum": 0.9955, "type": "quantitative"}, "text": {"field": "lab2"}}}]}]},
  {"transform": [{"filter": "datum.M == 'PLSR' && datum.V == 'equal'"}], "width": 263.5, "height": 118,
   "layer": [
    {"mark": "point", "encoding": {
      "x": {"field": "q", "type": "quantitative", "scale": {"domain": [6, 414.5], "nice": false, "zero": false}, "axis": {"values": [100, 200, 300, 400], "tickCount": 10, "title": null, "grid": true, "domain": false, "labelOverlap": false, "labelBound": false, "labelFlush": false}},
      "y": {"field": "a", "type": "quantitative", "scale": {"domain": [0.274, 1.041], "nice": false, "zero": false}, "axis": {"values": [0.3, 0.4, 0.5, 0.6, 0.7, 0.8, 0.9], "tickCount": 10, "title": null, "grid": true, "domain": false, "labels": false, "ticks": false}}}},
    {"transform": [{"loess": "a", "on": "q", "bandwidth": 0.67}], "mark": "line", "encoding": {"x": {"field": "q", "type": "quantitative"}, "y": {"field": "a", "type": "quantitative"}}},
    {"transform": [{"aggregate": [{"op": "count", "as": "n"}], "groupby": ["M", "V"]}, {"calculate": "'Method = ' + datum.M", "as": "lab"}, {"calculate": "datum.V + ' QTL variance'", "as": "lab2"}],
     "layer": [
      {"mark": "rect", "encoding": {"x": {"datum": 6, "type": "quantitative"}, "x2": {"datum": 414.5}, "y": {"datum": 0.95, "type": "quantitative"}, "y2": {"datum": 1.041}}},
      {"mark": {"type": "text", "align": "left", "dx": 6}, "encoding": {"x": {"datum": 6, "type": "quantitative"}, "y": {"datum": 0.9955, "type": "quantitative"}, "text": {"field": "lab"}}},
      {"mark": {"type": "text", "align": "right", "dx": -6}, "encoding": {"x": {"datum": 414.5, "type": "quantitative"}, "y": {"datum": 0.9955, "type": "quantitative"}, "text": {"field": "lab2"}}}]}]}
 ], "spacing": 0, "bounds": "flush"}
],
"config": {
  "view": {"stroke": "black", "strokeWidth": 1},
  "point": {"shape": "circle", "filled": false, "color": "#0080ff", "size": 36, "strokeWidth": 1, "opacity": 1},
  "line": {"color": "#0080ff", "strokeWidth": 1},
  "rect": {"fill": "#e6e6e6", "stroke": "black", "strokeWidth": 1},
  "text": {"font": "Liberation Sans", "fontSize": 13, "color": "black", "baseline": "middle"},
  "axis": {"labelFont": "Liberation Sans", "labelFontSize": 10, "labelColor": "black", "tickColor": "black", "tickSize": 6, "labelPadding": 6, "gridColor": "#cccccc", "gridWidth": 1, "titleFont": "Liberation Sans", "titleFontSize": 13, "titleFontWeight": "normal", "titleColor": "black"}
}
}
